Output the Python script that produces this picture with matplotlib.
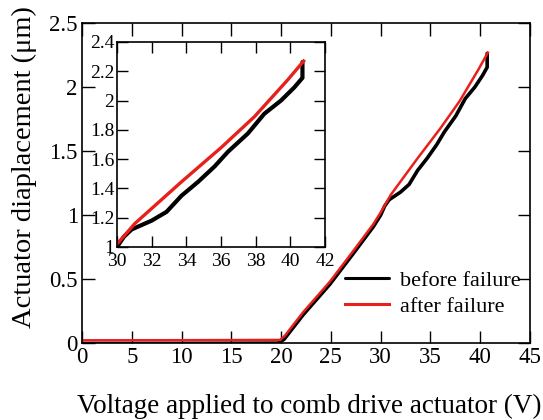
import matplotlib
matplotlib.use("Agg")
import matplotlib.pyplot as plt

plt.rcParams["font.family"] = ["Liberation Serif", "DejaVu Serif"]
plt.rcParams["mathtext.fontset"] = "stix"

# before failure (black)
volt_before = [0, 10, 19.7, 20.3, 22.2, 24.9, 27.25, 29.27, 30.0, 30.4,
               30.85, 32.0, 32.86, 33.72, 34.68, 35.63, 36.4, 37.55, 38.5,
               39.46, 40.23, 40.7, 40.7]
disp_before = [-0.003, -0.002, 0.0, 0.03, 0.22, 0.46, 0.70, 0.91, 1.0,
               1.07, 1.12, 1.18, 1.24, 1.35, 1.445, 1.55, 1.65, 1.775, 1.91,
               2.0, 2.09, 2.155, 2.263]

# after failure (red)
volt_after = [0, 10, 19.9, 20.4, 22.2, 24.9, 27.25, 29.27, 30.0, 31.03,
              33.72, 36.02, 37.93, 39.84, 40.77]
disp_after = [0.022, 0.023, 0.025, 0.06, 0.24, 0.48, 0.72, 0.93, 1.02,
              1.16, 1.445, 1.68, 1.89, 2.14, 2.27]

main_xticks = [0, 5, 10, 15, 20, 25, 30, 35, 40, 45]
main_yticks = [0, 0.5, 1, 1.5, 2, 2.5]
inset_xticks = [30, 32, 34, 36, 38, 40, 42]
inset_yticks = [1, 1.2, 1.4, 1.6, 1.8, 2, 2.2, 2.4]


def fmt(v):
    return f"{v:g}"


fig = plt.figure(figsize=(5.43, 4.2), dpi=100)
ax = fig.add_axes([0.151, 0.183, 0.825, 0.762])

ax.plot(volt_before, disp_before, color="black", lw=2.6,
        label="before failure", solid_capstyle="round",
        solid_joinstyle="round")
ax.plot(volt_after, disp_after, color="#e8201c", lw=1.8,
        label="after failure")
ax.set_xlim(0, 45)
ax.set_ylim(0, 2.5)
ax.set_xticks(main_xticks)
ax.set_xticklabels([fmt(v) for v in main_xticks])
ax.set_yticks(main_yticks)
ax.set_yticklabels([fmt(v) for v in main_yticks])
ax.tick_params(direction="in", length=9, width=1, top=True, right=True,
               labelsize=16.5, pad=3)
for s in ax.spines.values():
    s.set_linewidth(1.2)
ax.set_xlabel("Voltage applied to comb drive actuator (V)", fontsize=19.5)
ax.xaxis.set_label_coords(0.508, -0.16)
ax.set_ylabel("Actuator diaplacement (μm)", fontsize=20.5)
ax.yaxis.set_label_coords(-0.10, 0.55)

leg = ax.legend(loc="lower right", frameon=False, fontsize=16,
                bbox_to_anchor=(1.024, 0.02), handlelength=2.0,
                labelspacing=0.25, handletextpad=0.5)
for h in leg.get_lines():
    h.set_linewidth(2.2)

ins = fig.add_axes([0.2155, 0.412, 0.383, 0.488])
ins.plot(volt_before, disp_before, color="black", lw=3.0,
         solid_capstyle="round", solid_joinstyle="round")
ins.plot(volt_after, disp_after, color="#e8201c", lw=2.4)
ins.set_xlim(30, 42)
ins.set_ylim(1, 2.4)
ins.set_xticks(inset_xticks)
ins.set_xticklabels([fmt(v) for v in inset_xticks])
ins.set_yticks(inset_yticks)
ins.set_yticklabels([fmt(v) for v in inset_yticks])
ins.tick_params(axis="x", direction="in", length=8, width=1, top=True,
                labelsize=14, pad=4.5)
ins.tick_params(axis="y", direction="in", length=8, width=1, right=True,
                labelsize=14, pad=2)
for s in ins.spines.values():
    s.set_linewidth(1.2)

fig.savefig("out.png", dpi=100)
